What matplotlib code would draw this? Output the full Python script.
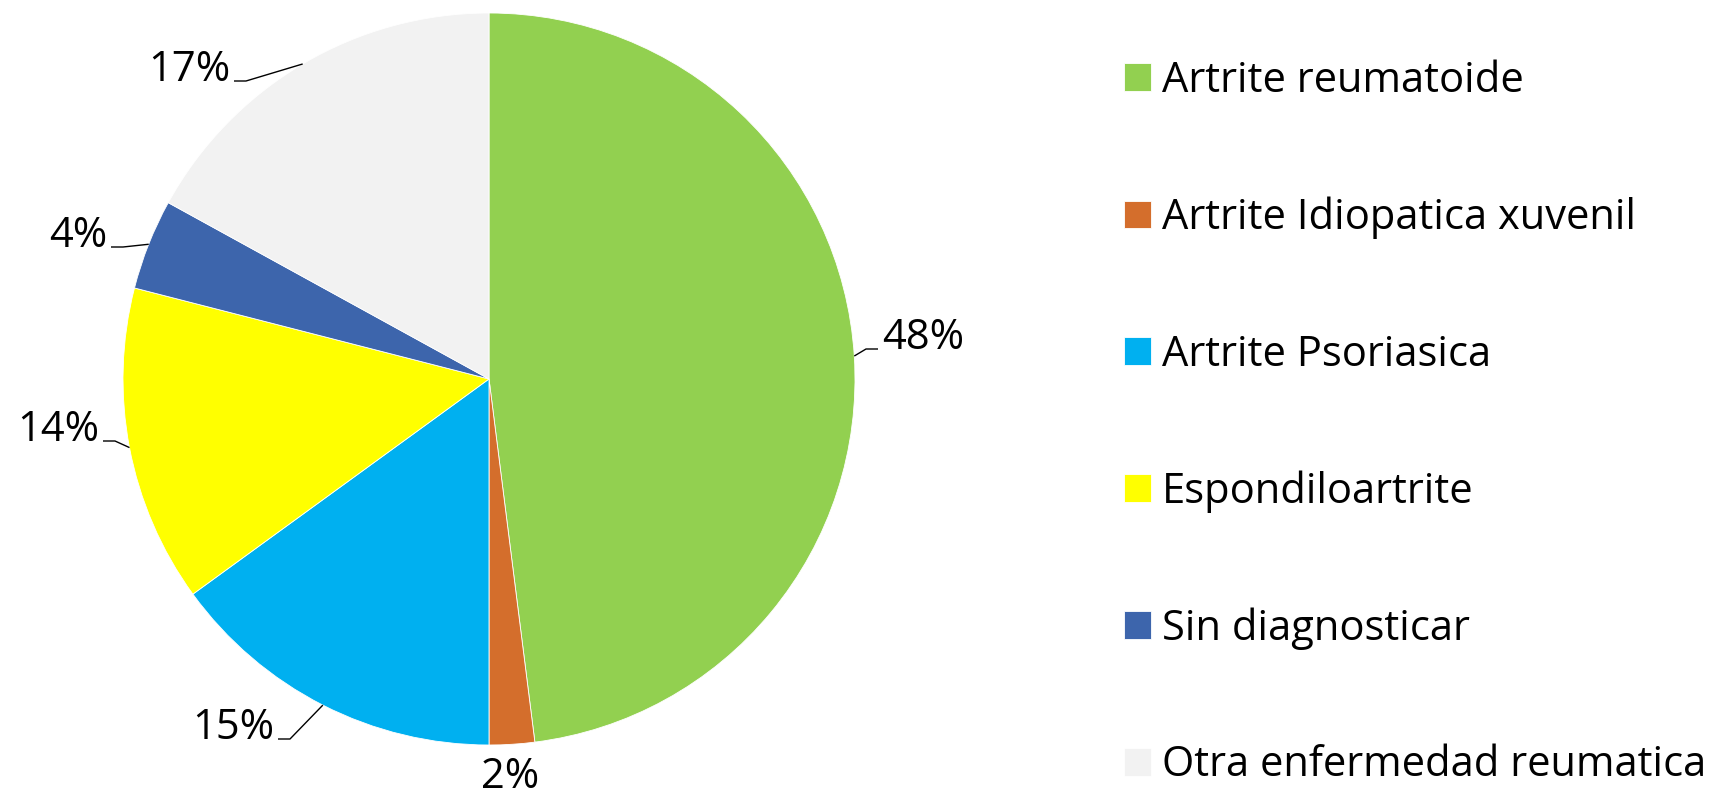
import numpy as np
import matplotlib
matplotlib.use("Agg")
import matplotlib.pyplot as plt

plt.rcParams["font.family"] = ["Open Sans", "DejaVu Sans"]

# Data
categories = [
    "Artrite reumatoide",
    "Artrite Idiopatica xuvenil",
    "Artrite Psoriasica",
    "Espondiloartrite",
    "Sin diagnosticar",
    "Otra enfermedad reumatica",
]
shares = [48, 2, 15, 14, 4, 17]
colors = ["#92D050", "#D46E2C", "#00B0F0", "#FFFF00", "#3D65AC", "#F2F2F2"]

# Layout (pixels, y measured from the top of the image)
W, H = 1711, 797
cx, cy, R = 489, 379, 366
# label anchor: x, baseline y, horizontal alignment
label_pos = [
    (882, 349, "left"),
    (510, 788, "center"),
    (274, 739, "right"),
    (99, 441, "right"),
    (107, 247, "right"),
    (230, 81, "right"),
]
FS = 30

fig = plt.figure(figsize=(W / 100, H / 100), dpi=100)
ax = fig.add_axes([0, 0, 1, 1])

wedges, _ = ax.pie(shares, colors=colors, startangle=90, counterclock=False,
                   center=(cx, H - cy), radius=R,
                   wedgeprops=dict(linewidth=0.6, edgecolor="white"))
ax.set_xlim(0, W)
ax.set_ylim(0, H)
ax.set_aspect("equal")
ax.axis("off")

# Percentage labels with leader lines
total = sum(shares)
start = 90.0
for val, (tx, ty, ha) in zip(shares, label_pos):
    sweep = 360.0 * val / total
    mid = np.deg2rad(start - sweep / 2)
    start -= sweep
    ex = cx + R * np.cos(mid)
    ey = (H - cy) + R * np.sin(mid)
    by = H - ty
    ax.text(tx, by, f"{round(100 * val / total)}%", fontsize=FS, ha=ha,
            va="baseline", color="black")
    if ha == "center":
        continue
    side = -1 if ha == "left" else 1
    end_x = tx + side * 4
    elbow_x = tx + side * 16
    ax.plot([ex, elbow_x, end_x], [ey, by, by], color="black", lw=1.0,
            solid_capstyle="butt")

fig.legend(wedges, categories, loc="upper left",
           bbox_to_anchor=(1124 / W, 1 - 60 / H), frameon=False,
           fontsize=FS, handlelength=0.65, handleheight=0.65,
           handletextpad=0.25, labelspacing=2.27, borderpad=0,
           borderaxespad=0)

fig.savefig("out.png", dpi=100, facecolor="white")
